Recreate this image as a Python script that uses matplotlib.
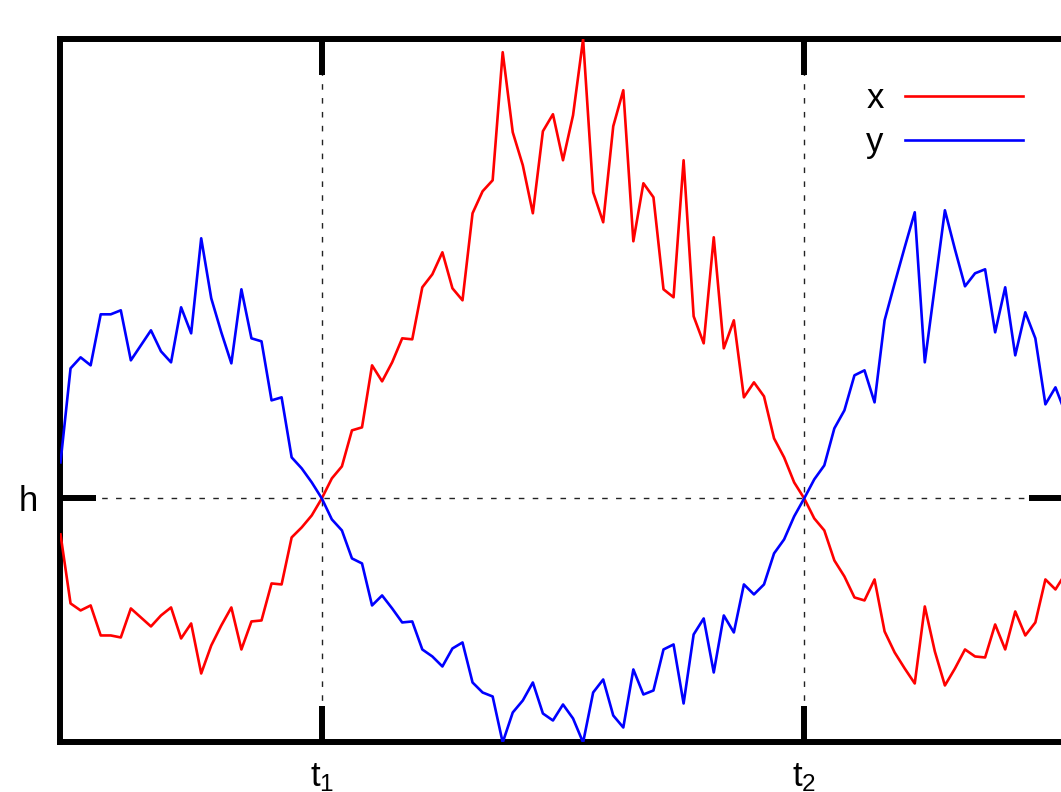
import numpy as np
import matplotlib
matplotlib.use('Agg')
import matplotlib.pyplot as plt

# Values, h = 0
x_vals = [-36, -105, -112, -107, -137, -137, -139, -110, -119, -128,
          -117, -109, -140, -125, -175, -147, -127, -109, -151, -123,
          -122, -85, -86, -39, -29, -17, 0, 20, 32, 68,
          71, 133, 117, 136, 160, 159, 211, 224, 246, 210,
          198, 285, 307, 318, 446, 366, 333, 285, 367, 384,
          338, 383, 459, 306, 276, 372, 408, 257, 315, 301,
          209, 201, 338, 182, 155, 261, 150, 178, 101, 116,
          102, 60, 41, 16, 0, -20, -32, -62, -78, -99,
          -102, -81, -133, -154, -170, -185, -108, -153, -187, -170,
          -151, -158, -159, -126, -151, -113, -137, -124, -81, -91,
          -75]
y_vals = [36, 130, 141, 133, 184, 184, 188, 138, 153, 168,
          147, 136, 191, 165, 260, 200, 166, 135, 209, 160,
          157, 98, 101, 41, 30, 16, 0, -21, -32, -60,
          -65, -107, -97, -110, -124, -123, -151, -158, -168, -150,
          -144, -184, -194, -198, -244, -214, -202, -184, -215, -222,
          -206, -220, -244, -194, -181, -217, -229, -171, -196, -192,
          -151, -146, -205, -136, -120, -174, -117, -134, -86, -96,
          -86, -55, -41, -18, 0, 19, 33, 70, 88, 123,
          128, 96, 178, 215, 251, 286, 136, 212, 288, 249,
          212, 225, 229, 166, 211, 143, 186, 160, 94, 111,
          85]
t_ticks = [26, 74]
t_labels = ['t$_1$', 't$_2$']
h_ticks = [0]
h_labels = ['h']

plt.rcParams['font.family'] = ['Liberation Sans', 'DejaVu Sans']
plt.rcParams['mathtext.fontset'] = 'custom'
plt.rcParams['mathtext.rm'] = 'Liberation Sans'
plt.rcParams['mathtext.it'] = 'Liberation Sans'

steps = np.arange(len(x_vals))

fig = plt.figure(figsize=(10.61, 7.92), dpi=100)
# axes runs a little past the right edge of the image, as in the reference
ax = fig.add_axes([0.05702, 0.06313, 0.94722, 0.88801])

ax.plot(steps, x_vals, color='#ff0000', lw=1.9, label='x', zorder=3)
ax.plot(steps, y_vals, color='#0000ff', lw=1.9, label='y', zorder=3)

ax.set_xlim(0, len(x_vals) - 1)
ax.set_ylim(-243.5, 459.5)

ax.set_xticks(t_ticks)
ax.set_xticklabels(t_labels)
ax.set_yticks(h_ticks)
ax.set_yticklabels(h_labels)
ax.tick_params(direction='in', length=26, width=4.3, top=True, right=True,
               labelsize=25, pad=14)
ax.tick_params(axis='y', pad=16)
ax.grid(True, color='#222222', lw=1.0, linestyle=(0, (4, 6)), zorder=1)
for s in ax.spines.values():
    s.set_linewidth(4.3)

ax.legend(loc='upper right', bbox_to_anchor=(1040 / 1061, (792 - 65) / 792),
          bbox_transform=fig.transFigure, frameon=False, markerfirst=False,
          handlelength=3.4, handletextpad=0.6, labelspacing=0.3,
          borderpad=0, fontsize=25)

fig.savefig('out.png', dpi=100)
